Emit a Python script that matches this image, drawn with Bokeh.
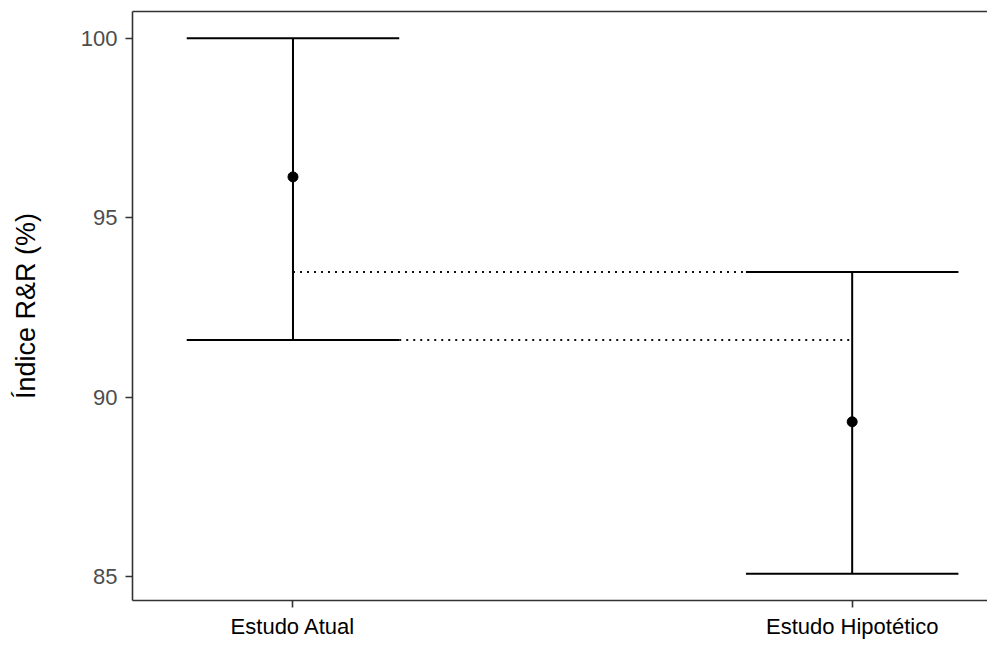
from bokeh.plotting import figure
from bokeh.models import FixedTicker, LinearAxis, Range1d
from bokeh.embed import file_html
from bokeh.resources import INLINE

# ---- data ----
categories = ["Estudo Atual", "Estudo Hipotético"]
estimate = [96.14, 89.32]
lower = [91.60, 85.09]
upper = [100.00, 93.49]
y_ticks = [85, 90, 95, 100]
y_title = "Índice R&R (%)"

# ---- derived positions ----
xpos = [i + 1 for i in range(len(categories))]
cap_half = 0.19

FONT = "Liberation Sans"
AXIS_COL = "#333333"

p = figure(width=987, height=641, output_backend="svg", toolbar_location=None,
           x_range=Range1d(0.713, 2.242), y_range=Range1d(84.3445, 100.7455),
           min_border_left=132, min_border_top=11, min_border_bottom=39,
           min_border_right=0)
p.outline_line_color = None
p.grid.visible = False
p.background_fill_color = "white"
p.border_fill_color = "white"

# reference dotted lines comparing the intervals
p.segment(x0=[xpos[0]], y0=[upper[1]], x1=[xpos[1] - cap_half], y1=[upper[1]],
          line_color="#111111", line_width=2, line_dash="2 5")
p.segment(x0=[xpos[0] + cap_half], y0=[lower[0]], x1=[xpos[1]], y1=[lower[0]],
          line_color="#111111", line_width=2, line_dash="2 5")

# error bars
p.segment(x0=xpos, y0=lower, x1=xpos, y1=upper, line_color="black", line_width=2)
p.segment(x0=[x - cap_half for x in xpos], y0=upper,
          x1=[x + cap_half for x in xpos], y1=upper, line_color="black", line_width=2)
p.segment(x0=[x - cap_half for x in xpos], y0=lower,
          x1=[x + cap_half for x in xpos], y1=lower, line_color="black", line_width=2)
p.scatter(x=xpos, y=estimate, size=10, color="black")

# axes
for ax in (p.xaxis[0], p.yaxis[0]):
    ax.axis_line_color = AXIS_COL
    ax.axis_line_width = 1.6
    ax.major_tick_line_color = AXIS_COL
    ax.major_tick_line_width = 1.6
    ax.major_tick_out = 7
    ax.major_tick_in = 0
    ax.minor_tick_line_color = None
    ax.major_label_text_font = FONT

p.xaxis.ticker = FixedTicker(ticks=xpos)
p.xaxis.major_label_overrides = {x: c for x, c in zip(xpos, categories)}
p.xaxis.major_label_text_font_size = "22px"
p.xaxis.major_label_text_color = "black"
p.xaxis.major_label_standoff = 6

p.yaxis.ticker = FixedTicker(ticks=y_ticks)
p.yaxis.major_label_text_font_size = "22px"
p.yaxis.major_label_text_color = "#4D4D4D"
p.yaxis.major_label_standoff = 8
p.yaxis.axis_label = y_title
p.yaxis.axis_label_text_font = FONT
p.yaxis.axis_label_text_font_size = "27px"
p.yaxis.axis_label_text_font_style = "normal"
p.yaxis.axis_label_text_color = "black"
p.yaxis.axis_label_standoff = 37

top = LinearAxis(ticker=FixedTicker(ticks=[]), axis_line_color=AXIS_COL,
                 axis_line_width=1.6, major_tick_out=0, major_tick_in=0,
                 minor_tick_out=0, minor_tick_in=0, major_label_standoff=0,
                 major_label_text_font_size="0px")
p.add_layout(top, "above")

open("out.html", "w").write(file_html(p, INLINE))
